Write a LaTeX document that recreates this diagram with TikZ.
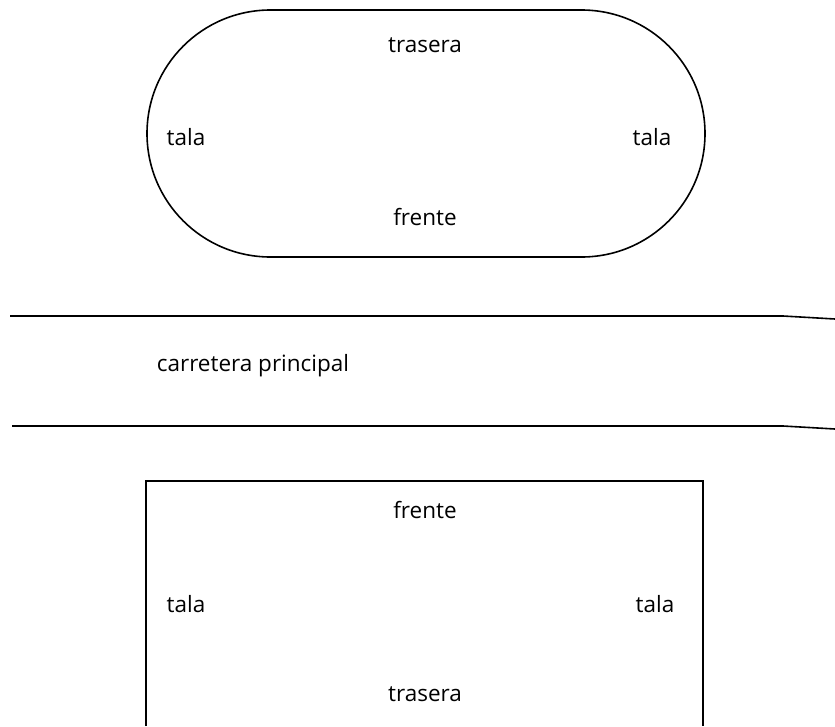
\documentclass[tikz,border=0pt]{standalone}
\usepackage{fontspec}
\setmainfont{Open Sans}
\begin{document}
\begin{tikzpicture}[x=1pt,y=-1pt,
  outline/.style={line width=1.6pt,black},
  lbl/.style={font=\fontsize{22.5}{26}\selectfont,inner sep=0pt,anchor=center}]
\useasboundingbox (0,0) rectangle (835,726);
% lot with rounded ends
\draw[outline,rounded corners=123.5pt] (147,10) rectangle (705,257);
\node[lbl] (t1) at (425,45) {trasera};
\node[lbl] (l1) at (186,137) {tala};
\node[lbl] (r1) at (652,137) {tala};
\node[lbl] (f1) at (425,217) {frente};
% main road
\draw[outline] (10,316) -- (783,316) -- (835,319);
\draw[outline] (12,426) -- (783,426) -- (835,429);
\node[lbl] (road) at (253,366) {carretera principal};
% rectangular lot, running off the bottom
\draw[outline] (146,726) -- (146,481) -- (703,481) -- (703,726);
\node[lbl] (f2) at (425,510) {frente};
\node[lbl] (l2) at (186,604) {tala};
\node[lbl] (r2) at (655,604) {tala};
\node[lbl] (t2) at (425,694) {trasera};
\end{tikzpicture}
\end{document}
